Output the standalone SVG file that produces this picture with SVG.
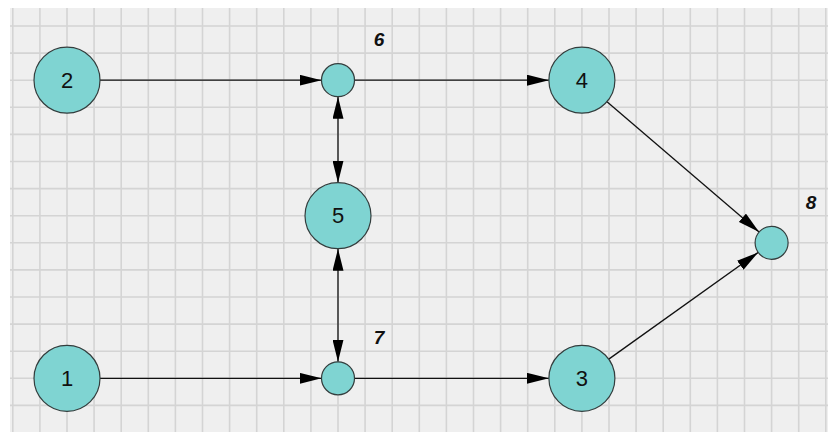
<svg xmlns="http://www.w3.org/2000/svg" width="828" height="432" viewBox="0 0 828 432">
<style>
.grid{stroke:#d4d4d4;stroke-width:1.6;fill:none}
.node{fill:#7fd4d2;stroke:#333d3d;stroke-width:1.2}
.lbl{font-family:"Liberation Sans",Arial,sans-serif;font-size:22px;fill:#111;text-anchor:middle;dominant-baseline:central}
.tag{font-family:"Liberation Sans",Arial,sans-serif;font-size:19px;font-weight:bold;font-style:italic;fill:#111;text-anchor:middle}
.edge{stroke:#111;stroke-width:1.3;fill:none}
</style>
<defs>
<marker id="ah" viewBox="0 0 22 11" refX="22" refY="5.5" markerWidth="22" markerHeight="11" markerUnits="userSpaceOnUse" orient="auto-start-reverse">
<path d="M0,0 L22,5.5 L0,11 z" fill="#000"/>
</marker>
</defs>
<rect x="0" y="0" width="828" height="432" fill="#ffffff"/>
<rect x="10" y="8" width="818" height="424" fill="#efefef"/>
<path class="grid" d="M12.8,8V432M39.9,8V432M67,8V432M94.1,8V432M121.2,8V432M148.3,8V432M175.4,8V432M202.5,8V432M229.6,8V432M256.7,8V432M283.8,8V432M310.9,8V432M338,8V432M365.1,8V432M392.2,8V432M419.3,8V432M446.4,8V432M473.5,8V432M500.6,8V432M527.7,8V432M554.8,8V432M581.9,8V432M609,8V432M636.1,8V432M663.2,8V432M690.3,8V432M717.4,8V432M744.5,8V432M771.6,8V432M798.7,8V432M825.8,8V432
M10,26H828M10,53.1H828M10,80.2H828M10,107.3H828M10,134.4H828M10,161.5H828M10,188.6H828M10,215.7H828M10,242.8H828M10,269.9H828M10,297H828M10,324.1H828M10,351.2H828M10,378.3H828M10,405.4H828"/>
<g id="connectors">
<line class="edge" x1="100" y1="80.2" x2="321.5" y2="80.2" marker-end="url(#ah)"/>
<line class="edge" x1="354.5" y1="80.2" x2="548.9" y2="80.2" marker-end="url(#ah)"/>
<line class="edge" x1="100" y1="378.3" x2="321.5" y2="378.3" marker-end="url(#ah)"/>
<line class="edge" x1="354.5" y1="378.3" x2="548.9" y2="378.3" marker-end="url(#ah)"/>
<line class="edge" x1="338" y1="96.7" x2="338" y2="182.7" marker-start="url(#ah)" marker-end="url(#ah)"/>
<line class="edge" x1="338" y1="248.7" x2="338" y2="361.8" marker-start="url(#ah)" marker-end="url(#ah)"/>
<line class="edge" x1="607" y1="101.7" x2="759.1" y2="232.1" marker-end="url(#ah)"/>
<line class="edge" x1="608.8" y1="359.1" x2="758.2" y2="252.4" marker-end="url(#ah)"/>
</g>
<g id="node2"><circle class="node" cx="67" cy="80.2" r="33"/><text class="lbl" x="67" y="80.2">2</text></g>
<g id="node6"><circle class="node" cx="338" cy="80.2" r="16.5"/><text class="tag" x="379" y="46">6</text></g>
<g id="node4"><circle class="node" cx="581.9" cy="80.2" r="33"/><text class="lbl" x="581.9" y="80.2">4</text></g>
<g id="node5"><circle class="node" cx="338" cy="215.7" r="33"/><text class="lbl" x="338" y="215.7">5</text></g>
<g id="node8"><circle class="node" cx="771.6" cy="242.8" r="16.5"/><text class="tag" x="811" y="209">8</text></g>
<g id="node7"><circle class="node" cx="338" cy="378.3" r="16.5"/><text class="tag" x="379" y="344">7</text></g>
<g id="node1"><circle class="node" cx="67" cy="378.3" r="33"/><text class="lbl" x="67" y="378.3">1</text></g>
<g id="node3"><circle class="node" cx="581.9" cy="378.3" r="33"/><text class="lbl" x="581.9" y="378.3">3</text></g>
</svg>
